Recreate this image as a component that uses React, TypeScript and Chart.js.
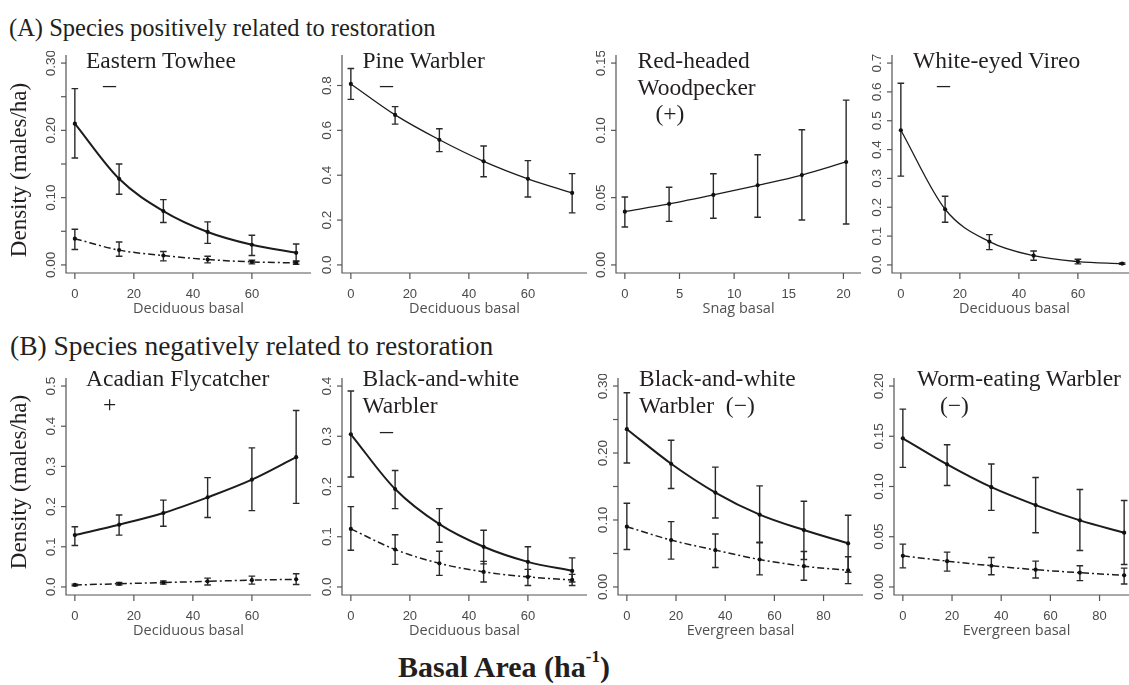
import React, { useEffect, useRef } from "react";
import { Chart, registerables } from "chart.js";
Chart.register(...registerables);

// ---------- x values ----------
const decidX = [0, 15, 30, 45, 60, 75];
const snagX = [0, 4.05, 8.1, 12.15, 16.2, 20.25];
const everX = [0, 18, 36, 54, 72, 90];

// ---------- tick values / labels ----------
const decidXTicks = [0, 20, 40, 60];
const snagXTicks = [0, 5, 10, 15, 20];
const everXTicks = [0, 20, 40, 60, 80];

const y030Ticks = [0, 0.05, 0.1, 0.15, 0.2, 0.25, 0.3];
const y030Labels = ["0.00", "", "0.10", "", "0.20", "", "0.30"];
const y08Ticks = [0, 0.2, 0.4, 0.6, 0.8];
const y08Labels = ["0.0", "0.2", "0.4", "0.6", "0.8"];
const y015Ticks = [0, 0.05, 0.1, 0.15];
const y015Labels = ["0.00", "0.05", "0.10", "0.15"];
const y07Ticks = [0, 0.1, 0.2, 0.3, 0.4, 0.5, 0.6, 0.7];
const y07Labels = ["0.0", "0.1", "0.2", "0.3", "0.4", "0.5", "0.6", "0.7"];
const y05Ticks = [0, 0.1, 0.2, 0.3, 0.4, 0.5];
const y05Labels = ["0.0", "0.1", "0.2", "0.3", "0.4", "0.5"];
const y04Ticks = [0, 0.1, 0.2, 0.3, 0.4];
const y04Labels = ["0.0", "0.1", "0.2", "0.3", "0.4"];
const y020Ticks = [0, 0.05, 0.1, 0.15, 0.2];
const y020Labels = ["0.00", "0.05", "0.10", "0.15", "0.20"];

// ---------- Eastern Towhee ----------
const towheeFit = [0.21, 0.128, 0.08, 0.049, 0.03, 0.018];
const towheeLo = [0.159, 0.105, 0.063, 0.032, 0.014, 0.006];
const towheeHi = [0.262, 0.15, 0.097, 0.064, 0.044, 0.031];
const towheeFit2 = [0.039, 0.022, 0.014, 0.008, 0.0045, 0.003];
const towheeLo2 = [0.023, 0.013, 0.006, 0.003, 0.0015, 0.001];
const towheeHi2 = [0.053, 0.034, 0.02, 0.013, 0.007, 0.005];

// ---------- Pine Warbler ----------
const pineFit = [0.807, 0.669, 0.558, 0.462, 0.384, 0.321];
const pineLo = [0.738, 0.628, 0.505, 0.393, 0.303, 0.232];
const pineHi = [0.876, 0.706, 0.607, 0.53, 0.465, 0.407];

// ---------- Red-headed Woodpecker ----------
const rhwoFit = [0.0396, 0.0453, 0.052, 0.0592, 0.0668, 0.0765];
const rhwoLo = [0.0282, 0.0324, 0.0347, 0.0354, 0.0334, 0.0304];
const rhwoHi = [0.0505, 0.0577, 0.0678, 0.0819, 0.1005, 0.1225];

// ---------- White-eyed Vireo ----------
const weviFit = [0.467, 0.193, 0.081, 0.032, 0.0115, 0.0046];
const weviLo = [0.308, 0.148, 0.053, 0.016, 0.0035, 0.002];
const weviHi = [0.63, 0.238, 0.105, 0.0485, 0.0196, 0.007];

// ---------- Acadian Flycatcher ----------
const acflFit = [0.129, 0.155, 0.184, 0.223, 0.267, 0.323];
const acflLo = [0.103, 0.129, 0.151, 0.173, 0.19, 0.208];
const acflHi = [0.15, 0.179, 0.216, 0.272, 0.346, 0.439];
const acflFit2 = [0.005, 0.008, 0.011, 0.014, 0.017, 0.019];
const acflLo2 = [0.003, 0.005, 0.007, 0.005, 0.007, 0.006];
const acflHi2 = [0.007, 0.011, 0.015, 0.022, 0.027, 0.033];

// ---------- Black-and-white Warbler (deciduous) ----------
const bawwDFit = [0.304, 0.195, 0.125, 0.08, 0.05, 0.032];
const bawwDLo = [0.219, 0.156, 0.089, 0.046, 0.021, 0.01];
const bawwDHi = [0.39, 0.232, 0.156, 0.113, 0.08, 0.058];
const bawwDFit2 = [0.1155, 0.0746, 0.047, 0.03, 0.02, 0.014];
const bawwDLo2 = [0.073, 0.045, 0.023, 0.01, 0.003, 0.003];
const bawwDHi2 = [0.16, 0.104, 0.071, 0.051, 0.035, 0.025];

// ---------- Black-and-white Warbler (evergreen) ----------
const bawwEFit = [0.2356, 0.184, 0.141, 0.108, 0.085, 0.065];
const bawwELo = [0.185, 0.147, 0.103, 0.066, 0.041, 0.022];
const bawwEHi = [0.29, 0.219, 0.179, 0.151, 0.128, 0.107];
const bawwEFit2 = [0.09, 0.07, 0.055, 0.041, 0.031, 0.0248];
const bawwELo2 = [0.056, 0.0416, 0.029, 0.018, 0.01, 0.005];
const bawwEHi2 = [0.125, 0.0975, 0.079, 0.067, 0.053, 0.045];

// ---------- Worm-eating Warbler ----------
const wewaFit = [0.148, 0.122, 0.0993, 0.0815, 0.0663, 0.054];
const wewaLo = [0.119, 0.101, 0.0762, 0.054, 0.0363, 0.0224];
const wewaHi = [0.177, 0.1416, 0.1224, 0.109, 0.097, 0.086];
const wewaFit2 = [0.031, 0.0257, 0.0211, 0.0172, 0.0142, 0.0116];
const wewaLo2 = [0.019, 0.0158, 0.0122, 0.0089, 0.0063, 0.003];
const wewaHi2 = [0.0426, 0.0347, 0.0294, 0.0257, 0.0211, 0.0188];

const SERIF = '"Liberation Serif", "Times New Roman", serif';
const SANS = '"Liberation Sans", Arial, sans-serif';
const CAPF = '"Open Sans", sans-serif';

const PLOT_W = 239;
const PAD = { left: 50, right: 6, top: 4, bottom: 34 };

type Series = { fit: number[]; lo: number[]; hi: number[]; dash: boolean; width: number };
type Spec = {
  left: number; top: number; h: number;
  xs: number[]; xMin: number; xMax: number; xTicks: number[];
  yMin: number; yMax: number; yTicks: number[]; yLabels: string[];
  series: Series[];
};

const panels: Spec[] = [
  { left: 66, top: 55, h: 218, xs: decidX, xMin: -3, xMax: 78, xTicks: decidXTicks,
    yMin: -0.012, yMax: 0.312, yTicks: y030Ticks, yLabels: y030Labels,
    series: [
      { fit: towheeFit, lo: towheeLo, hi: towheeHi, dash: false, width: 2 },
      { fit: towheeFit2, lo: towheeLo2, hi: towheeHi2, dash: true, width: 1.5 },
    ] },
  { left: 342, top: 55, h: 218, xs: decidX, xMin: -3, xMax: 78, xTicks: decidXTicks,
    yMin: -0.036, yMax: 0.936, yTicks: y08Ticks, yLabels: y08Labels,
    series: [{ fit: pineFit, lo: pineLo, hi: pineHi, dash: false, width: 1.3 }] },
  { left: 616, top: 55, h: 218, xs: snagX, xMin: -0.81, xMax: 21.06, xTicks: snagXTicks,
    yMin: -0.006, yMax: 0.156, yTicks: y015Ticks, yLabels: y015Labels,
    series: [{ fit: rhwoFit, lo: rhwoLo, hi: rhwoHi, dash: false, width: 1.3 }] },
  { left: 892, top: 55, h: 218, xs: decidX, xMin: -3, xMax: 78, xTicks: decidXTicks,
    yMin: -0.028, yMax: 0.728, yTicks: y07Ticks, yLabels: y07Labels,
    series: [{ fit: weviFit, lo: weviLo, hi: weviHi, dash: false, width: 1.3 }] },
  { left: 66, top: 378, h: 217, xs: decidX, xMin: -3, xMax: 78, xTicks: decidXTicks,
    yMin: -0.02, yMax: 0.52, yTicks: y05Ticks, yLabels: y05Labels,
    series: [
      { fit: acflFit, lo: acflLo, hi: acflHi, dash: false, width: 2 },
      { fit: acflFit2, lo: acflLo2, hi: acflHi2, dash: true, width: 1.5 },
    ] },
  { left: 342, top: 378, h: 217, xs: decidX, xMin: -3, xMax: 78, xTicks: decidXTicks,
    yMin: -0.016, yMax: 0.416, yTicks: y04Ticks, yLabels: y04Labels,
    series: [
      { fit: bawwDFit, lo: bawwDLo, hi: bawwDHi, dash: false, width: 2 },
      { fit: bawwDFit2, lo: bawwDLo2, hi: bawwDHi2, dash: true, width: 1.5 },
    ] },
  { left: 618, top: 378, h: 217, xs: everX, xMin: -3.6, xMax: 93.6, xTicks: everXTicks,
    yMin: -0.012, yMax: 0.312, yTicks: y030Ticks, yLabels: y030Labels,
    series: [
      { fit: bawwEFit, lo: bawwELo, hi: bawwEHi, dash: false, width: 2 },
      { fit: bawwEFit2, lo: bawwELo2, hi: bawwEHi2, dash: true, width: 1.5 },
    ] },
  { left: 894, top: 378, h: 217, xs: everX, xMin: -3.6, xMax: 93.6, xTicks: everXTicks,
    yMin: -0.008, yMax: 0.208, yTicks: y020Ticks, yLabels: y020Labels,
    series: [
      { fit: wewaFit, lo: wewaLo, hi: wewaHi, dash: false, width: 2 },
      { fit: wewaFit2, lo: wewaLo2, hi: wewaHi2, dash: true, width: 1.5 },
    ] },
];

function makeRPlugin(spec: Spec) {
  return {
    id: "rStyle",
    beforeDatasetsDraw(chart: any) {
      const { ctx, scales } = chart;
      const x = scales.x, y = scales.y;
      ctx.save();
      ctx.strokeStyle = "#2a2a2a";
      ctx.lineWidth = 1.4;
      spec.series.forEach((s) => {
        spec.xs.forEach((xv, i) => {
          const px = x.getPixelForValue(xv);
          const t = y.getPixelForValue(s.hi[i]);
          const b = y.getPixelForValue(s.lo[i]);
          const c = 3.3;
          ctx.beginPath();
          ctx.moveTo(px, t); ctx.lineTo(px, b);
          ctx.moveTo(px - c, t); ctx.lineTo(px + c, t);
          ctx.moveTo(px - c, b); ctx.lineTo(px + c, b);
          ctx.stroke();
        });
      });
      ctx.restore();
    },
    afterDraw(chart: any) {
      const { ctx, chartArea: a, scales } = chart;
      const x = scales.x, y = scales.y;
      ctx.save();
      ctx.strokeStyle = "#555";
      ctx.lineWidth = 1.2;
      ctx.beginPath();
      ctx.moveTo(a.left, a.top);
      ctx.lineTo(a.left, a.bottom);
      ctx.lineTo(a.right + 10, a.bottom);
      ctx.stroke();
      ctx.fillStyle = "#4a4a4a";
      ctx.font = "13px " + SANS;
      ctx.textAlign = "center";
      ctx.textBaseline = "alphabetic";
      spec.xTicks.forEach((v) => {
        const px = x.getPixelForValue(v);
        ctx.beginPath();
        ctx.moveTo(px, a.bottom);
        ctx.lineTo(px, a.bottom + 6);
        ctx.stroke();
        ctx.fillText(String(v), px, a.bottom + 24.5);
      });
      ctx.font = "13.5px " + SANS;
      spec.yTicks.forEach((v, i) => {
        const py = y.getPixelForValue(v);
        ctx.beginPath();
        ctx.moveTo(a.left, py);
        ctx.lineTo(a.left - 5, py);
        ctx.stroke();
        const lab = spec.yLabels[i];
        if (lab) {
          ctx.save();
          ctx.translate(a.left - 11, py);
          ctx.rotate(-Math.PI / 2);
          ctx.fillText(lab, 0, 0);
          ctx.restore();
        }
      });
      ctx.restore();
    },
  };
}

function Panel({ spec }: { spec: Spec }) {
  const ref = useRef<HTMLCanvasElement>(null);
  const W = PAD.left + PLOT_W + PAD.right;
  const H = PAD.top + spec.h + PAD.bottom;
  useEffect(() => {
    if (!ref.current) return;
    const chart = new Chart(ref.current, {
      type: "line",
      data: {
        datasets: spec.series.map((s) => ({
          data: spec.xs.map((xv, i) => ({ x: xv, y: s.fit[i] })),
          borderColor: "#1c1c1c",
          borderWidth: s.width,
          borderDash: s.dash ? [7, 3, 2, 3] : [],
          pointRadius: 2.1,
          pointBackgroundColor: "#111",
          pointBorderWidth: 0,
          cubicInterpolationMode: "monotone",
          fill: false,
        })),
      },
      options: {
        animation: false,
        responsive: false,
        events: [],
        layout: { padding: PAD },
        plugins: { legend: { display: false }, tooltip: { enabled: false }, title: { display: false } },
        scales: {
          x: { type: "linear", min: spec.xMin, max: spec.xMax, display: false },
          y: { type: "linear", min: spec.yMin, max: spec.yMax, display: false },
        },
      },
      plugins: [makeRPlugin(spec)],
    } as any);
    return () => chart.destroy();
  }, []);
  return (
    <canvas
      ref={ref}
      width={W}
      height={H}
      style={{ position: "absolute", left: spec.left - PAD.left, top: spec.top - PAD.top, width: W, height: H }}
    />
  );
}

const baseK: Record<string, number> = { serif: 0.8375, sans: 0.8465, cap: 0.888 };

function T(props: {
  x: number; base: number; size: number; kind?: "serif" | "sans" | "cap";
  color?: string; bold?: boolean; center?: boolean; sx?: number; children: React.ReactNode;
}) {
  const kind = props.kind || "serif";
  const fam = kind === "serif" ? SERIF : kind === "sans" ? SANS : CAPF;
  const tr: string[] = [];
  if (props.center) tr.push("translateX(-50%)");
  if (props.sx) tr.push(`scaleX(${props.sx})`);
  return (
    <div
      style={{
        position: "absolute",
        left: props.x,
        top: props.base - baseK[kind] * props.size,
        fontSize: props.size,
        lineHeight: `${props.size}px`,
        fontFamily: fam,
        fontWeight: props.bold ? "bold" : "normal",
        color: props.color || "#231f20",
        whiteSpace: "pre",
        transform: tr.length ? tr.join(" ") : undefined,
        transformOrigin: "left center",
      }}
    >
      {props.children}
    </div>
  );
}

function YLab({ cx, cy }: { cx: number; cy: number }) {
  return (
    <div
      style={{
        position: "absolute",
        left: cx,
        top: cy,
        fontFamily: SERIF,
        fontSize: 23,
        lineHeight: "23px",
        color: "#231f20",
        whiteSpace: "pre",
        transform: "translate(-50%, -50%) rotate(-90deg)",
      }}
    >
      Density (males/ha)
    </div>
  );
}

export default function App() {
  const TS = 23.5;
  const capY = [314, 636];
  return (
    <div style={{ position: "fixed", left: 0, top: 0, width: 1129, height: 685, overflow: "hidden", background: "#fff" }}>
      {panels.map((p, i) => (
        <Panel key={i} spec={p} />
      ))}
      <T x={9} base={37} size={24.5}>(A) Species positively related to restoration</T>
      <T x={10} base={355} size={27.5}>(B) Species negatively related to restoration</T>
      <YLab cx={18} cy={170} />
      <YLab cx={18} cy={482} />

      <T x={86} base={68.5} size={TS}>Eastern Towhee</T>
      <T x={103} base={93.5} size={26}>–</T>
      <T x={362.5} base={68.5} size={TS}>Pine Warbler</T>
      <T x={380} base={93.5} size={26}>–</T>
      <T x={637.5} base={68.5} size={TS}>Red-headed</T>
      <T x={637.5} base={95.5} size={TS}>Woodpecker</T>
      <T x={655.5} base={122} size={TS}>(+)</T>
      <T x={913} base={68.5} size={TS}>White-eyed Vireo</T>
      <T x={937} base={93.5} size={26}>–</T>

      <T x={86} base={387} size={TS}>Acadian Flycatcher</T>
      <T x={103} base={413} size={TS}>+</T>
      <T x={362.5} base={387} size={TS}>Black-and-white</T>
      <T x={362.5} base={414} size={TS}>Warbler</T>
      <T x={380} base={440} size={26}>–</T>
      <T x={639} base={387} size={TS}>Black-and-white</T>
      <T x={639} base={414} size={TS}>{"Warbler  (\u2212)"}</T>
      <T x={917} base={387} size={TS}>Worm-eating Warbler</T>
      <T x={940} base={414} size={TS}>{"(\u2212)"}</T>

      {panels.map((p, i) => (
        <T key={"c" + i} x={p.left + PLOT_W / 2 + 3} base={capY[i < 4 ? 0 : 1]} size={14.5} kind="cap" color="#505050" center>
          {i === 2 ? "Snag basal" : i >= 6 ? "Evergreen basal" : "Deciduous basal"}
        </T>
      ))}

      <div
        style={{
          position: "absolute",
          left: 398,
          top: 677 - 0.8375 * 30,
          fontFamily: SERIF,
          fontSize: 30,
          lineHeight: "30px",
          fontWeight: "bold",
          color: "#231f20",
          whiteSpace: "pre",
        }}
      >
        Basal Area (ha
        <span style={{ fontSize: 17, position: "relative", top: -15 }}>-1</span>)
      </div>
    </div>
  );
}
